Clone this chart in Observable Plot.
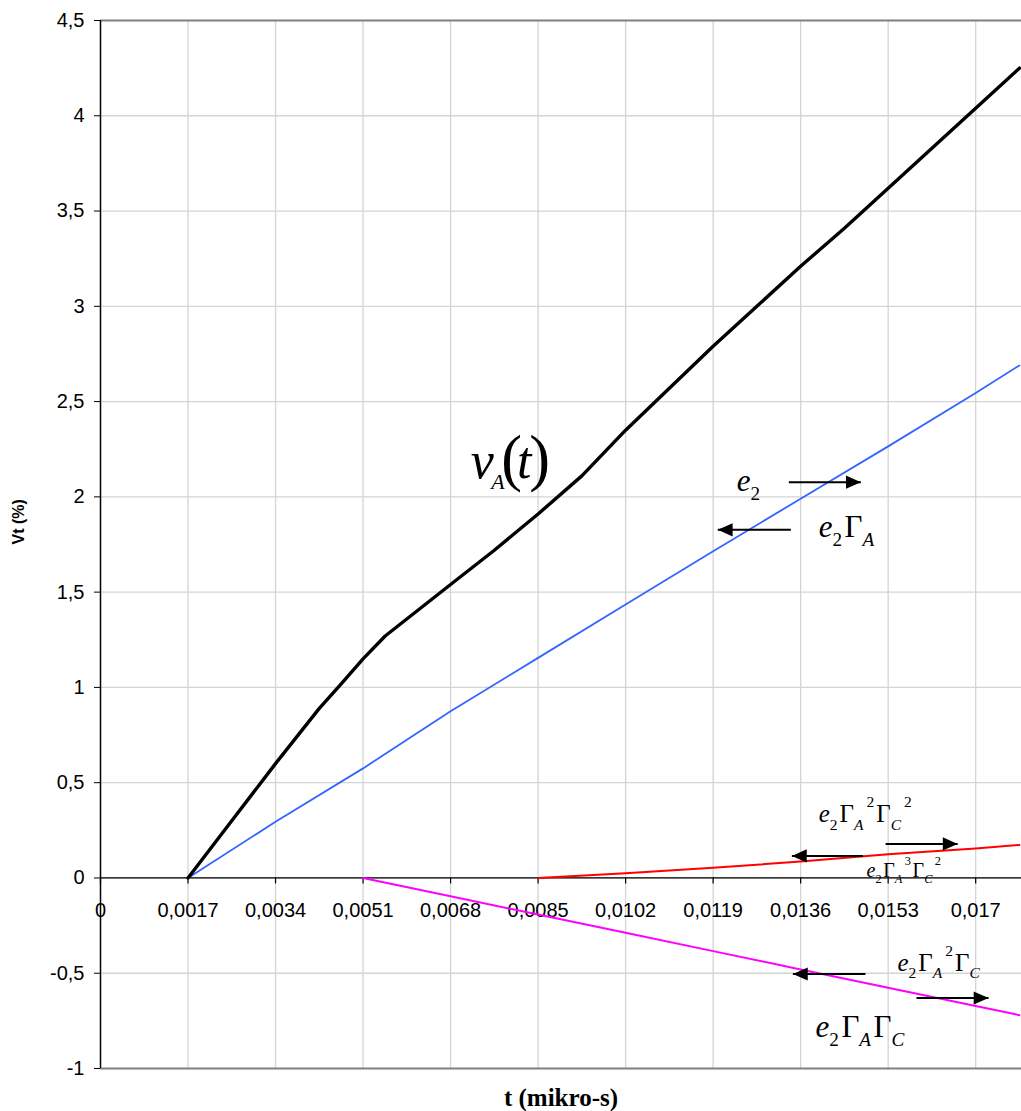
<!DOCTYPE html>
<html>
<head>
<meta charset="utf-8">
<script src="https://cdn.jsdelivr.net/npm/d3@7"></script>
<script src="https://cdn.jsdelivr.net/npm/@observablehq/plot@0.6"></script>
<style>
  html, body { margin: 0; padding: 0; background: #fff; }
</style>
</head>
<body>
<div id="chart"></div>
<script>
// ---------- data ----------
const xTicks = [0, 0.0017, 0.0034, 0.0051, 0.0068, 0.0085, 0.0102, 0.0119, 0.0136, 0.0153, 0.017];
const yTicks = [-1, -0.5, 0, 0.5, 1, 1.5, 2, 2.5, 3, 3.5, 4, 4.5];

// v_A(t) (black)
const tBlack = [0.0017, 0.00255, 0.0034, 0.00425, 0.00468, 0.0051, 0.00553, 0.0068, 0.00765, 0.0085, 0.00935,
                0.0102, 0.01105, 0.0119, 0.01275, 0.0136, 0.01445, 0.0153, 0.01615, 0.017, 0.01785];
const vBlack = [0, 0.30, 0.60, 0.89, 1.02, 1.15, 1.27, 1.54, 1.72, 1.91, 2.11,
                2.35, 2.57, 2.79, 3.00, 3.21, 3.41, 3.62, 3.83, 4.04, 4.25];

// e2 / e2·ΓA (blue)
const tBlue = [0.0017, 0.0034, 0.0051, 0.0068, 0.0085, 0.0102, 0.0119, 0.0136, 0.0153, 0.017, 0.01785];
const vBlue = [0, 0.295, 0.575, 0.875, 1.155, 1.435, 1.715, 1.99, 2.265, 2.545, 2.69];

// e2ΓA²ΓC² (red)
const tRed = [0.0085, 0.0102, 0.0119, 0.0136, 0.0153, 0.017, 0.01785];
const vRed = [0, 0.025, 0.053, 0.086, 0.125, 0.155, 0.173];

// e2ΓAΓC (magenta)
const tMagenta = [0.0051, 0.0068, 0.0085, 0.0102, 0.0119, 0.0136, 0.0153, 0.017, 0.01785];
const vMagenta = [0, -0.096, -0.192, -0.288, -0.384, -0.48, -0.576, -0.672, -0.72];

// annotations (data coordinates; "_" = subscript, "^" = superscript)
const labelVA = [{x: 0.00719, y: 2.10, label: "v_A(t)"}];
const labelsLarge = [
  {x: 0.01236, y: 2.033, label: "e_2"},
  {x: 0.01395, y: 1.788, label: "e_2Γ_A"},
  {x: 0.01389, y: -0.837, label: "e_2Γ_AΓ_C"}
];
const labelsMedium = [
  {x: 0.01395, y: 0.292, label: "e_2Γ_A^2Γ_C^2"},
  {x: 0.01548, y: -0.487, label: "e_2Γ_A^2Γ_C"}
];
const labelsSmall = [{x: 0.01488, y: 0.003, label: "e_2Γ_A^3Γ_C^2"}];

const arrowsRight = [
  {x1: 0.01337, x2: 0.01477, y: 2.077},
  {x1: 0.01525, x2: 0.01665, y: 0.1785},
  {x1: 0.01585, x2: 0.01725, y: -0.630}
];
const arrowsLeft = [
  {x1: 0.01341, x2: 0.01199, y: 1.827},
  {x1: 0.01481, x2: 0.01343, y: 0.1155},
  {x1: 0.01486, x2: 0.01345, y: -0.504}
];

const xTitle = "t (mikro-s)";
const yTitle = "Vt (%)";

// ---------- layout ----------
const W = 1021, H = 1111;
const mL = 100, mR = 0, mT = 20, mB = 43;
const xDomain = [0, 0.01789];
const yDomain = [-1, 4.5];
const pxPerY = (H - mT - mB) / (yDomain[1] - yDomain[0]);
const tickLen = 6 / pxPerY;

const series = (t, v) => t.map((x, i) => ({t: x, v: v[i]}));
const fmt = d => String(d).replace(".", ",");
const serif = "'Liberation Serif', 'DejaVu Serif', 'Times New Roman', Times, serif";
const sans = "'Liberation Sans', Arial, Helvetica, sans-serif";

const headRight = {draw(ctx, size) {
  const r = Math.sqrt(size / Math.PI);
  ctx.moveTo(0, 0); ctx.lineTo(-2.7 * r, -1.2 * r); ctx.lineTo(-2.7 * r, 1.2 * r); ctx.closePath();
}};
const headLeft = {draw(ctx, size) {
  const r = Math.sqrt(size / Math.PI);
  ctx.moveTo(0, 0); ctx.lineTo(2.7 * r, -1.2 * r); ctx.lineTo(2.7 * r, 1.2 * r); ctx.closePath();
}};

const gridStyle = {stroke: "#d4d4d4", strokeOpacity: 1, strokeWidth: 1.3};
const annot = (data, size) => Plot.text(data, {
  x: "x", y: "y", text: "label", textAnchor: "start", lineAnchor: "bottom",
  fontFamily: serif, fontSize: size, fill: "#000"
});

const chart = Plot.plot({
  width: W, height: H,
  marginLeft: mL, marginRight: mR, marginTop: mT, marginBottom: mB,
  style: {fontFamily: sans, fontSize: "20px", background: "#fff", color: "#000", overflow: "visible"},
  x: {domain: xDomain, axis: null},
  y: {domain: yDomain, axis: null},
  marks: [
    Plot.gridX(xTicks.filter(d => d > 0), gridStyle),
    Plot.gridY(yTicks.filter(d => d > -1 && d < 4.5), gridStyle),
    Plot.ruleY([4.5], {stroke: "#808080", strokeWidth: 2}),
    Plot.ruleY([-1], {stroke: "#808080", strokeWidth: 2}),
    Plot.ruleY([0], {stroke: "#000", strokeWidth: 1.2}),
    Plot.ruleX(xTicks, {x: d => d, y1: 0, y2: -tickLen, stroke: "#000", strokeWidth: 1.2}),
    Plot.ruleX([0], {stroke: "#000", strokeWidth: 1.5}),
    Plot.axisY(yTicks, {tickSize: 6, tickPadding: 10, tickFormat: fmt, fontSize: 20, label: null}),
    Plot.text(xTicks, {x: d => d, y: 0, dy: 39, lineAnchor: "bottom", text: fmt, fontSize: 20}),
    Plot.text([yTitle], {frameAnchor: "left", dx: -82, rotate: -90, text: d => d,
      fontWeight: "bold", fontSize: 16, fontFamily: sans}),
    Plot.text([xTitle], {frameAnchor: "bottom", dy: 37, lineAnchor: "bottom", text: d => d,
      fontWeight: "bold", fontSize: 25, fontFamily: serif}),
    Plot.line(series(tBlue, vBlue), {x: "t", y: "v", stroke: "#3366ff", strokeWidth: 1.8}),
    Plot.line(series(tRed, vRed), {x: "t", y: "v", stroke: "#ff0000", strokeWidth: 2}),
    Plot.line(series(tMagenta, vMagenta), {x: "t", y: "v", stroke: "#ff00ff", strokeWidth: 2}),
    Plot.line(series(tBlack, vBlack), {x: "t", y: "v", stroke: "#000", strokeWidth: 3.4}),
    Plot.link(arrowsRight, {x1: "x1", x2: "x2", y1: "y", y2: "y", stroke: "#000", strokeWidth: 2}),
    Plot.link(arrowsLeft, {x1: "x1", x2: "x2", y1: "y", y2: "y", stroke: "#000", strokeWidth: 2}),
    Plot.dot(arrowsRight, {x: "x2", y: "y", r: 5.5, symbol: headRight, fill: "#000", stroke: "none"}),
    Plot.dot(arrowsLeft, {x: "x2", y: "y", r: 5.5, symbol: headLeft, fill: "#000", stroke: "none"}),
    annot(labelVA, 52),
    annot(labelsLarge, 31),
    annot(labelsMedium, 25),
    annot(labelsSmall, 20)
  ]
});

document.getElementById("chart").appendChild(chart);

// make sure the serif family is used for the x title
chart.querySelectorAll("text").forEach(el => {
  if (el.textContent === xTitle) {
    el.style.fontFamily = serif;
    el.style.fontWeight = "700";
  }
});

// ---------- rich math text (sub/superscripts) ----------
const NS = "http://www.w3.org/2000/svg";
function richText(el, markup, base) {
  const big = base > 40;
  const scriptRatio = big ? 0.42 : 0.62;
  const subOff = big ? 0.21 : 0.29;
  const supOff = -0.6;
  const segs = [];
  for (let i = 0; i < markup.length; i++) {
    const c = markup[i];
    if (c === "_" || c === "^") segs.push({t: markup[++i], kind: c === "_" ? "sub" : "sup"});
    else if (c === "(" || c === ")") segs.push({t: c, kind: "paren"});
    else segs.push({t: c, kind: "base"});
  }
  el.style.fontFamily = serif;
  while (el.firstChild) el.removeChild(el.firstChild);
  let cur = 0, prevKind = null;
  for (const s of segs) {
    const ts = document.createElementNS(NS, "tspan");
    let size = base, off = 0, dx = 0;
    if (s.kind === "sub") {
      size = base * scriptRatio; off = base * subOff;
      if (big) dx -= base * 0.05;
    } else if (s.kind === "sup") {
      size = base * scriptRatio; off = base * supOff;
    } else if (s.kind === "paren") {
      size = base * (big ? 1.2 : 1); off = base * 0.02;
      dx -= base * (s.t === "(" ? 0.06 : 0.04);
    }
    if ((prevKind === "sub" || prevKind === "sup") && s.kind !== "paren") dx += base * 0.08;
    if (prevKind === "paren") dx -= base * 0.1;
    if (s.kind === "sup" && prevKind === "sub") dx += base * 0.04;
    ts.setAttribute("font-size", size.toFixed(2));
    if (off - cur !== 0) ts.setAttribute("dy", (off - cur).toFixed(2));
    if (dx) ts.setAttribute("dx", dx.toFixed(2));
    const italic = /[A-Za-z]/.test(s.t) && s.kind !== "paren";
    ts.setAttribute("font-style", italic ? "italic" : "normal");
    ts.textContent = s.t;
    el.appendChild(ts);
    cur = off;
    prevKind = s.kind;
  }
}
chart.querySelectorAll("text").forEach(el => {
  const s = el.textContent;
  if (/[_^]/.test(s)) {
    const base = parseFloat(getComputedStyle(el).fontSize);
    richText(el, s, base);
  }
});
</script>
</body>
</html>
